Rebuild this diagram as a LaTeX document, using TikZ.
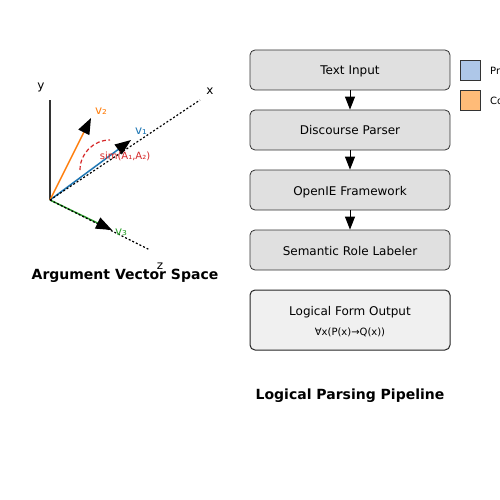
\documentclass[tikz,border=0pt]{standalone}
\usepackage{fontspec}
\setmainfont{DejaVu Sans}
\usetikzlibrary{arrows.meta}
\definecolor{mblue}{HTML}{1F77B4}
\definecolor{morange}{HTML}{FF7F0E}
\definecolor{mgreen}{HTML}{2CA02C}
\definecolor{mred}{HTML}{D62728}
\definecolor{boxfill}{HTML}{E0E0E0}
\definecolor{outfill}{HTML}{F0F0F0}
\definecolor{lblue}{HTML}{AEC7E8}
\definecolor{lorange}{HTML}{FFBB78}
\definecolor{dgray}{HTML}{333333}
\begin{document}
\begin{tikzpicture}[x=1pt,y=-1pt,
  txt/.style={font=\fontsize{12}{14}\selectfont, inner sep=0pt},
  small/.style={font=\fontsize{10}{12}\selectfont, inner sep=0pt},
  ttl/.style={font=\fontsize{14}{16}\selectfont\bfseries, inner sep=0pt},
  vec/.style={line width=1.5pt, -{Triangle[length=16pt,width=12pt,black]}},
  axisdot/.style={black, line width=1.2pt, dash pattern=on 2pt off 2pt},
  stagebox/.style={draw=dgray, fill=boxfill, rounded corners=5pt, line width=0.8pt,
    minimum width=200pt, minimum height=40pt, inner sep=0pt, text height=10pt, text depth=0pt,
    font=\fontsize{12}{14}\selectfont},
  outbox/.style={draw=black!85, fill=outfill, rounded corners=5pt, line width=1pt,
    minimum width=200pt, minimum height=60pt, inner sep=0pt, align=center},
  parr/.style={black, line width=1pt, -{Triangle[length=13pt,width=10pt]}},
  legbox/.style={draw=dgray, line width=0.8pt, minimum width=20pt, minimum height=20pt, inner sep=0pt}
]
\useasboundingbox (0,0) rectangle (500,500);
\fill[white] (0,0) rectangle (500,500);

% ---- vector space ----
\coordinate (O) at (50,200);
\coordinate (ytop) at (50,100);
\coordinate (xend) at (200,100);
\coordinate (zend) at (150,250);
\coordinate (v1tip) at (131,140);
\coordinate (v2tip) at (91,118);
\coordinate (v3tip) at (112,230);

\draw[dgray, line width=1.5pt] (O) -- (ytop);
\draw[vec, mblue] (O) -- (v1tip);
\draw[vec, morange] (O) -- (v2tip);
\draw[vec, mgreen] (O) -- (v3tip);
\draw[axisdot] (O) -- (xend);
\draw[axisdot] (O) -- (zend);
\draw[mred, line width=1.2pt, dash pattern=on 4pt off 2.5pt] (80,170) arc[start angle=180, end angle=270, radius=30];

\node[txt] (ylab) at (41,87) {y};
\node[txt] (xlab) at (210,91) {x};
\node[txt] (zlab) at (160,266) {z};
\node[txt, text=morange] (v2lab) at (101,111) {v₂};
\node[txt, text=mblue] (v1lab) at (141,131) {v₁};
\node[txt, text=mgreen] (v3lab) at (121,232) {v₃};
\node[small, text=mred] (simlab) at (125,156) {sim(A₁,A₂)};
\node[ttl] (lefttitle) at (125,276) {Argument Vector Space};

% ---- pipeline ----
\node[stagebox] (s1) at (350,70) {Text Input};
\node[stagebox] (s2) at (350,130) {Discourse Parser};
\node[stagebox] (s3) at (350,190) {OpenIE Framework};
\node[stagebox] (s4) at (350,250) {Semantic Role Labeler};
\node[outbox] (out) at (350,320) {\fontsize{12}{14}\selectfont\rule{0pt}{13pt}Logical Form Output\\[8pt]\fontsize{10}{12}\selectfont ∀x(P(x)→Q(x))};
\draw[parr] (s1.south) -- (s2.north);
\draw[parr] (s2.south) -- (s3.north);
\draw[parr] (s3.south) -- (s4.north);
\node[ttl] (righttitle) at (350,396) {Logical Parsing Pipeline};

% ---- legend ----
\node[legbox, fill=lblue] (lg1) at (470,70) {};
\node[legbox, fill=lorange] (lg2) at (470,100) {};
\node[small, anchor=west] (lt1) at (490,71) {Pr};
\node[small, anchor=west] (lt2) at (490,101) {Co};
\end{tikzpicture}
\end{document}
